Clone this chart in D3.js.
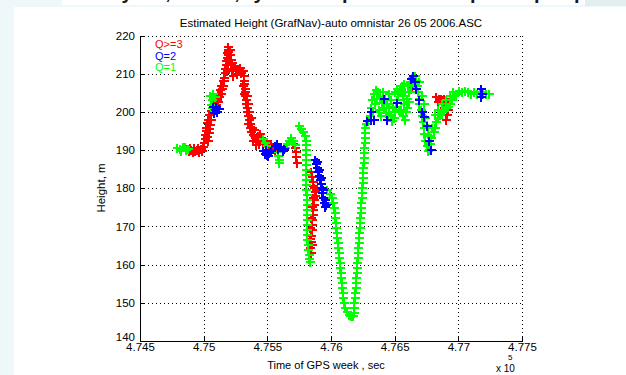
<!DOCTYPE html>
<html>
<head>
<meta charset="utf-8">
<script src="https://cdn.jsdelivr.net/npm/d3@7"></script>
<style>
  html, body { margin: 0; padding: 0; background: #eef8fa; }
  svg { display: block; }
</style>
</head>
<body>
<svg id="chart" width="626" height="375"></svg>
<script>
// Estimated height per GPS epoch, grouped by solution quality flag Q.
// Each entry: [time of GPS week (s), height (m)]
const qHigh = [ // Q>=3
  [474867,190.2],[474883,189.7],[474898,189.9],[474914,189.4],[474930,189.7],[474945,189.9],[474961,189.4],[474977,190.2],[474992,190.7],
  [474891,190.5],[474922,190.5],[474953,190.5],[474984,189.7],
  [475000,191.8],[475008,192.8],[475008,193.9],[475016,194.9],[475016,195.9],[475023,197.0],[475031,198.0],[475039,199.1],[475055,200.1],[475070,200.9],
  [475031,192.3],[475039,194.4],[475047,196.5],[475055,198.0],[475023,193.4],[475039,195.4],
  [475094,201.7],[475109,202.7],[475117,203.8],[475133,204.8],[475141,205.9],[475148,206.9],[475156,208.0],[475156,209.0],
  [475078,202.0],[475102,203.0],[475109,204.3],[475125,205.6],[475133,206.7],[475148,208.2],
  [475164,210.1],[475164,211.1],[475172,212.2],[475172,213.2],[475180,214.2],[475180,215.3],[475188,216.3],[475195,217.1],[475203,216.1],[475203,214.8],[475211,213.5],[475211,212.2],
  [475188,214.8],[475195,213.5],[475188,212.2],[475180,210.8],[475219,212.9],[475195,215.6],
  [475219,210.8],[475234,210.6],[475250,211.1],[475266,210.8],[475281,210.6],[475297,210.1],[475313,209.3],
  [475227,209.5],[475258,209.8],[475289,211.4],[475242,211.9],[475305,210.8],
  [475320,208.2],[475320,207.2],[475328,206.1],[475328,205.1],[475328,204.1],[475336,203.0],[475336,202.0],[475344,200.9],[475344,199.9],[475352,198.8],[475359,197.8],[475367,196.7],[475367,195.7],[475375,194.6],[475391,193.9],[475406,193.1],[475422,192.3],[475438,191.5],
  [475305,206.7],[475313,204.6],[475344,204.1],[475352,202.0],[475359,199.9],[475352,196.7],[475375,198.3],[475383,195.9],[475391,192.5],[475414,191.2],[475398,195.2],
  [475430,193.6],[475445,194.1],[475453,193.1],[475469,192.0],[475484,192.5],[475500,191.8],[475531,191.5],
  [475516,191.2],[475539,190.5],[475563,189.9],
  [475703,191.5],[475719,190.5],[475727,189.4],[475727,188.1],[475734,186.5],
  [475844,184.2],[475852,182.9],[475859,181.6],[475867,180.0],[475875,179.0],[475875,177.9],[475867,176.9],[475867,175.6],[475859,174.2],[475859,172.9],[475852,171.6],[475852,170.3],[475852,169.0],[475844,167.5],[475844,165.9],[475836,164.3],[475844,163.0],
  [475859,180.5],[475883,179.5],[475859,177.4],[475852,175.0],[475844,172.2],[475836,169.5],[475836,166.7],[475852,165.1],
  [476633,206.4],[476727,198.6],
  [476828,203.8],[476852,203.3],[476875,203.0],[476898,202.5],[476914,201.4],[476922,200.4],[476914,199.1],[476906,198.0],[476891,200.9],[476930,202.0],
  [476844,202.5],[476867,203.5],[476891,203.3],[476938,203.0]
];

const qTwo = [ // Q=2
  [475070,201.2],[475086,200.4],[475102,199.9],[475117,200.7],[475078,199.6],[475094,201.2],
  [475469,189.7],[475484,188.9],[475500,188.6],[475516,189.2],[475531,189.7],[475492,189.9],[475508,188.4],
  [475563,191.0],[475586,190.2],[475609,190.7],[475633,190.2],[475578,191.5],[475625,189.7],
  [475875,187.3],[475883,186.3],[475891,185.2],[475898,184.2],[475906,183.1],[475914,182.1],[475922,181.0],[475930,180.0],[475930,178.7],[475938,177.4],[475945,176.1],[475953,175.0],
  [475891,186.8],[475906,184.7],[475922,182.6],[475938,179.5],[475953,176.9],[475961,175.6],
  [476281,197.5],[476313,198.0],[476336,197.8],
  [476313,199.9],[476414,203.3],[476438,197.8],[476516,202.2],
  [476625,208.5],[476641,209.3],[476656,207.7],[476664,205.9],
  [476695,203.0],[476711,199.9],[476727,198.6],[476750,196.2],[476766,192.5],[476789,189.9],
  [477180,205.9],[477188,204.8],[477180,203.8]
];

const qOne = [ // Q=1
  [474789,190.5],[474813,190.2],[474836,190.7],[474859,189.9],[474875,190.2],[474820,189.7],[474852,190.7],
  [475047,204.1],[475063,203.0],[475070,204.6],[475055,201.7],[475078,200.1],[475063,200.9],[475086,203.8],
  [475469,192.8],[475484,191.8],[475500,191.0],
  [475586,189.4],[475586,188.4],[475594,187.3],[475594,186.5],
  [475641,190.5],[475656,191.5],[475672,192.5],[475688,193.1],[475703,192.3],[475719,191.2],
  [475750,196.2],[475766,195.4],[475781,194.6],[475797,193.6],[475805,192.5],[475805,191.2],[475805,189.9],[475805,188.6],[475805,187.3],[475805,186.0],[475805,184.7],[475805,183.4],[475805,182.1],[475805,180.8],[475805,179.5],
  [475813,178.2],[475813,176.9],[475813,175.6],[475813,174.2],[475813,172.9],[475813,171.6],[475813,170.3],[475813,169.0],[475813,167.7],[475813,166.4],[475820,165.1],[475820,163.8],[475828,162.5],[475828,161.4],[475836,160.7],
  [475969,179.5],[475992,178.4],[476008,177.4],[476016,176.1],[476023,174.8],[476031,173.5],[476031,172.2],[476039,170.8],[476039,169.5],[476047,168.2],[476047,166.9],[476055,165.6],[476055,164.3],[476063,163.0],[476063,161.7],[476070,160.4],[476070,159.1],[476078,157.8],[476078,156.5],[476086,155.2],[476086,153.9],[476094,152.5],[476094,151.2],[476102,149.9],[476109,148.6],[476125,147.6],[476141,146.8],[476156,146.5],[476172,146.5],[476180,147.3],
  [476180,148.6],[476180,149.9],[476188,151.2],[476188,152.5],[476195,153.9],[476195,155.2],[476195,156.5],[476203,157.8],[476203,159.1],[476203,160.4],[476211,161.7],[476211,163.0],[476211,164.3],[476219,165.6],[476219,166.9],[476219,168.2],[476227,169.5],[476227,170.8],[476227,172.2],[476234,173.5],[476234,174.8],[476234,176.1],[476242,177.4],[476242,178.7],[476242,180.0],[476250,181.3],[476250,182.6],[476250,183.9],[476250,185.2],[476258,186.5],[476258,187.8],[476258,189.2],[476258,190.5],[476266,191.8],[476266,193.1],[476266,194.4],[476266,195.7],[476273,196.7],[476289,197.5],
  [476305,198.8],[476313,200.9],[476320,203.0],[476336,204.6],[476352,205.6],[476367,205.1],[476383,203.8],[476398,202.2],[476414,200.9],[476430,199.6],[476445,198.8],[476438,202.0],[476422,203.5],[476453,200.9],
  [476328,199.9],[476344,202.0],[476359,203.5],[476375,200.4],[476391,198.8],[476406,205.1],[476453,204.6],[476469,203.0],[476484,201.4],
  [476469,199.1],[476477,197.5],[476492,198.3],[476500,199.9],[476508,201.4],[476516,203.0],[476523,204.6],[476539,205.6],[476555,206.7],[476570,207.2],
  [476500,205.1],[476516,206.1],[476531,200.4],[476563,204.1],[476578,205.1],[476594,200.9],[476609,202.5],[476625,206.1],[476648,207.2],
  [476547,200.4],[476563,198.8],[476578,197.8],[476586,199.9],[476570,202.0],[476594,203.5],[476609,205.1],[476602,206.7],[476617,207.7],[476633,208.8],[476641,209.5],[476656,209.3],
  [476664,208.2],[476672,206.7],[476680,205.1],[476688,203.5],[476695,202.0],[476703,200.4],[476711,198.8],[476719,197.3],[476727,195.7],[476734,194.1],[476742,192.5],[476750,191.0],[476758,189.7],
  [476688,207.7],[476711,204.1],[476727,202.0],[476742,198.3],[476758,195.7],[476766,193.6],[476773,191.5],
  [476773,189.9],[476781,191.5],[476789,193.1],[476805,194.6],[476813,195.9],[476828,197.3],[476844,198.3],[476859,199.1],[476875,199.9],[476891,200.4],[476906,200.9],[476922,201.4],[476938,202.0],[476953,203.0],[476969,204.1],[476984,204.8],
  [476797,195.9],[476820,199.1],[476844,200.4],[476875,202.0],[476906,203.0],[476938,204.1],[476961,205.1],
  [477008,205.4],[477031,205.1],[477055,205.4],[477078,205.1],[477102,204.8],[477125,205.1],[477148,204.8],[477172,205.1],[477195,204.8],[477219,204.8],[477242,204.6]
];

const series = [
  { name: "Q>=3", color: "#ff0000", values: qHigh },
  { name: "Q=1",  color: "#00ff00", values: qOne },
  { name: "Q=2",  color: "#0000ff", values: qTwo }
];
const legendOrder = ["Q>=3", "Q=2", "Q=1"];

const xTicks = [474500, 475000, 475500, 476000, 476500, 477000, 477500];
const xTickLabels = ["4.745", "4.75", "4.755", "4.76", "4.765", "4.77", "4.775"];
const yTicks = [140, 150, 160, 170, 180, 190, 200, 210, 220];

const titleText = "Estimated Height (GrafNav)-auto omnistar 26 05 2006.ASC";
const xLabel = "Time of GPS week , sec";
const yLabel = "Height, m";

const svg = d3.select("#chart");
const font = "'Liberation Sans', Arial, Helvetica, sans-serif";

// page framing around the figure
svg.append("rect").attr("x", 0).attr("y", 0).attr("width", 626).attr("height", 375).attr("fill", "#eef8fa");
svg.append("rect").attr("x", 585).attr("y", 0).attr("width", 41).attr("height", 6).attr("fill", "#e3eef1");
svg.append("rect").attr("x", 62).attr("y", 0).attr("width", 523).attr("height", 5).attr("fill", "#ffffff");
svg.append("rect").attr("x", 14).attr("y", 7).attr("width", 612).attr("height", 368).attr("fill", "#ffffff");

// descenders of the slide text line above the figure
const headerGlyphs = [["y", 127], [",", 168], [",", 237], ["y", 259], ["p", 348], ["p", 476], ["p", 540], ["p", 580]];
const header = svg.append("g").attr("font-family", font).attr("font-weight", "bold").attr("font-size", 20).attr("fill", "#1a1a1a");
header.selectAll("text").data(headerGlyphs).join("text")
  .attr("x", d => d[1]).attr("y", -1).attr("text-anchor", "middle").text(d => d[0]);

const x = d3.scaleLinear().domain([474500, 477500]).range([140, 522]);
const y = d3.scaleLinear().domain([140, 220]).range([341, 35.5]);

// dotted grid
const grid = svg.append("g").attr("stroke", "#000").attr("stroke-width", 1)
  .attr("stroke-dasharray", "1,3").attr("shape-rendering", "crispEdges");
grid.selectAll("line.h").data(yTicks.slice(1)).join("line").attr("class", "h")
  .attr("x1", x.range()[0]).attr("x2", x.range()[1])
  .attr("y1", d => Math.round(y(d)) + 0.5).attr("y2", d => Math.round(y(d)) + 0.5);
grid.selectAll("line.v").data(xTicks.slice(1)).join("line").attr("class", "v")
  .attr("y1", y.range()[1]).attr("y2", y.range()[0])
  .attr("x1", d => Math.round(x(d)) + 0.5).attr("x2", d => Math.round(x(d)) + 0.5);

// '+' markers, 2 px strokes
const plus = "M-4.5,0H4.5M0,-4.5V4.5";
series.forEach(s => {
  svg.append("g").attr("stroke", s.color).attr("stroke-width", 2).attr("fill", "none")
    .attr("shape-rendering", "crispEdges")
    .selectAll("path").data(s.values).join("path")
    .attr("d", plus)
    .attr("transform", d => `translate(${Math.round(x(d[0]))},${Math.round(y(d[1]))})`);
});

// axes
const xAxis = d3.axisBottom(x).tickValues(xTicks).tickFormat((d, i) => xTickLabels[i])
  .tickSizeInner(-4).tickSizeOuter(0).tickPadding(2);
const yAxis = d3.axisLeft(y).tickValues(yTicks).tickFormat(d3.format("d"))
  .tickSizeInner(-4).tickSizeOuter(0).tickPadding(5);

const gx = svg.append("g").attr("transform", `translate(0,${y.range()[0]})`).call(xAxis);
const gy = svg.append("g").attr("transform", `translate(${x.range()[0]},0)`).call(yAxis);
[gx, gy].forEach(g => {
  g.attr("font-family", font).attr("font-size", 11.5).attr("shape-rendering", "crispEdges");
  g.selectAll("path, line").attr("stroke", "#000");
  g.selectAll("text").attr("fill", "#000");
});
// lowest height label sits just above the corner
gy.selectAll(".tick text").filter(d => d === 140).attr("y", -4);

// title and axis labels
svg.append("text").attr("x", 331).attr("y", 27).attr("text-anchor", "middle")
  .attr("font-family", font).attr("font-size", 11.5).text(titleText);
svg.append("text").attr("x", 326).attr("y", 369).attr("text-anchor", "middle")
  .attr("font-family", font).attr("font-size", 11).text(xLabel);
svg.append("text").attr("transform", "translate(105,188) rotate(-90)").attr("text-anchor", "middle")
  .attr("font-family", font).attr("font-size", 11.5).text(yLabel);

// exponent of the time axis
const expo = svg.append("g").attr("font-family", font).attr("fill", "#000");
expo.append("text").attr("x", 496).attr("y", 372).attr("font-size", 10).text("x 10");
expo.append("text").attr("x", 508).attr("y", 360).attr("font-size", 8).text("5");

// legend
const legend = svg.append("g").attr("font-family", font).attr("font-size", 11);
legend.selectAll("text").data(legendOrder.map(n => series.find(s => s.name === n))).join("text")
  .attr("x", 155).attr("y", (d, i) => 48 + i * 11.5)
  .attr("fill", d => d.color).text(d => d.name);
</script>
</body>
</html>
